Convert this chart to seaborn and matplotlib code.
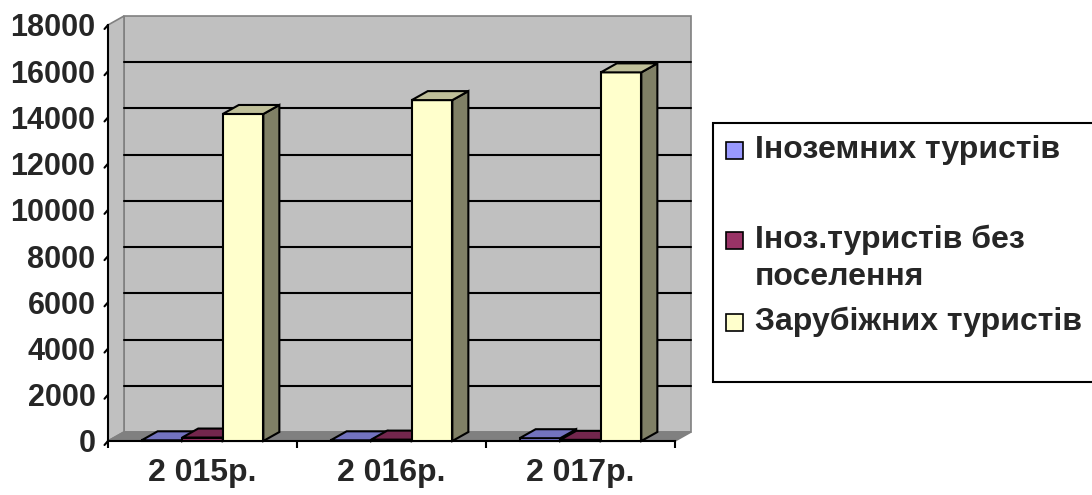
import numpy as np
import pandas as pd
import matplotlib
matplotlib.use("Agg")
import matplotlib.pyplot as plt
from matplotlib.patches import Polygon, Rectangle
from matplotlib.lines import Line2D
import seaborn as sns

# ---------------- data ----------------
years = ["2 015р.", "2 016р.", "2 017р."]
series_names = ["Іноземних туристів", "Іноз.туристів без поселення", "Зарубіжних туристів"]
legend_labels = ["Іноземних туристів", "Іноз.туристів без\nпоселення", "Зарубіжних туристів"]
inozemni = [30, 30, 120]
bez_poselennya = [150, 60, 50]
zarubizhni = [14150, 14750, 15950]
y_ticks = [0, 2000, 4000, 6000, 8000, 10000, 12000, 14000, 16000, 18000]
colors = ["#9999FF", "#993366", "#FFFFCC"]

df = pd.DataFrame({
    "year": years * 3,
    "series": [series_names[0]] * 3 + [series_names[1]] * 3 + [series_names[2]] * 3,
    "value": inozemni + bez_poselennya + zarubizhni,
})

sns.set_theme(style="white")
plt.rcParams["font.family"] = ["Liberation Sans", "DejaVu Sans"]
plt.rcParams["font.weight"] = "bold"

W, H = 1092, 495
fig = plt.figure(figsize=(W / 100, H / 100), dpi=100)
fig.patch.set_facecolor("white")

# axes = front plane of the 3D box (pixels)
x0, x1, y_bot, y_top = 108, 675, 441, 25
ax = fig.add_axes([x0 / W, 1 - y_bot / H, (x1 - x0) / W, (y_bot - y_top) / H])
ax.set_facecolor("none")

sns.barplot(data=df, x="year", y="value", hue="series", palette=colors,
            width=0.644, saturation=1, edgecolor="black", linewidth=1.5,
            legend=False, ax=ax, errorbar=None)
ax.set_xlim(-0.5, 2.5)
ax.set_ylim(0, 18000)

px_x = (x1 - x0) / 3.0          # pixels per category unit
px_y = (y_bot - y_top) / 18000  # pixels per value unit
ddx = 16 / px_x
ddy = 9 / px_y
ymax = 18000

def shade(c, f):
    r, g, b = matplotlib.colors.to_rgb(c)
    return (r * f, g * f, b * f)

# walls and floor
xl, xr = -0.5, 2.5
wall_kw = dict(edgecolor="#808080", linewidth=1.2, clip_on=False)
ax.add_patch(Polygon([(xl + ddx, ddy), (xr + ddx, ddy), (xr + ddx, ymax + ddy), (xl + ddx, ymax + ddy)],
                     facecolor="#C0C0C0", zorder=0.5, **wall_kw))
ax.add_patch(Polygon([(xl, 0), (xl + ddx, ddy), (xl + ddx, ymax + ddy), (xl, ymax)],
                     facecolor="#C0C0C0", zorder=0.6, **wall_kw))
ax.add_patch(Polygon([(xl, 0), (xr, 0), (xr + ddx, ddy), (xl + ddx, ddy)],
                     facecolor="#808080", zorder=0.7, **wall_kw))
# gridlines on back wall
for v in y_ticks[1:-1]:
    ax.add_line(Line2D([xl + ddx, xr + ddx], [v + ddy, v + ddy], color="black",
                       linewidth=1.5, zorder=1.0, clip_on=False))

# 3D bar faces from seaborn patches
for k, cont in enumerate(ax.containers):
    base = 3 + k
    for p in cont.patches:
        p.set_zorder(base)
        p.set_clip_on(False)
        x, w, h = p.get_x(), p.get_width(), p.get_height()
        fc = colors[k]
        ax.add_patch(Polygon([(x + w, 0), (x + w + ddx, ddy), (x + w + ddx, h + ddy), (x + w, h)],
                             facecolor=shade(fc, 0.5), edgecolor="black", linewidth=1.5,
                             zorder=base + 0.5, clip_on=False))
        ax.add_patch(Polygon([(x, h), (x + w, h), (x + w + ddx, h + ddy), (x + ddx, h + ddy)],
                             facecolor=shade(fc, 0.75), edgecolor="black", linewidth=1.5,
                             zorder=base + 0.5, clip_on=False))

# axes styling
for s in ["top", "right"]:
    ax.spines[s].set_visible(False)
for s in ["left", "bottom"]:
    ax.spines[s].set_color("black")
    ax.spines[s].set_linewidth(1.5)
    ax.spines[s].set_zorder(2.5)
ax.set_xlabel("")
ax.set_ylabel("")
ax.set_yticks(y_ticks)
ax.set_yticklabels([str(v) for v in y_ticks])
ax.tick_params(axis="y", length=0, pad=9, labelsize=22)
ax.set_xticks([0, 1, 2])
ax.set_xticklabels(years)
ax.set_xticks([-0.5, 0.5, 1.5, 2.5], minor=True)
ax.tick_params(axis="x", which="major", length=0, pad=12, labelsize=23)
ax.tick_params(axis="x", which="minor", length=5, width=1.5, color="black", direction="out", bottom=True)
for lab in ax.get_xticklabels() + ax.get_yticklabels():
    lab.set_fontweight("bold")
# slanted y ticks
for v in y_ticks:
    ax.add_line(Line2D([xl, xl - 3.5 / px_x], [v, v - 4 / px_y], color="black",
                       linewidth=1.5, clip_on=False, zorder=2.5))

# legend (drawn as figure-level artists)
def fx(px):
    return px / W
def fy(py):
    return 1 - py / H

fig.patches.append(Rectangle((fx(713), fy(382)), fx(1100) - fx(713), fy(123) - fy(382),
                             transform=fig.transFigure, facecolor="white", edgecolor="black",
                             linewidth=1.5, figure=fig))
entry_y = [150, 240, 322]
sq = 17
for k in range(3):
    cy = entry_y[k]
    fig.patches.append(Rectangle((fx(726), fy(cy + sq / 2)), sq / W, sq / H,
                                 transform=fig.transFigure, facecolor=colors[k],
                                 edgecolor="black", linewidth=1.2, figure=fig))
fs = 23
fig.text(fx(755), fy(150), legend_labels[0], fontsize=fs, fontweight="bold", va="center", ha="left")
fig.text(fx(755), fy(240), "Іноз.туристів без", fontsize=fs, fontweight="bold", va="center", ha="left")
fig.text(fx(755), fy(277), "поселення", fontsize=fs, fontweight="bold", va="center", ha="left")
fig.text(fx(755), fy(322), legend_labels[2], fontsize=fs, fontweight="bold", va="center", ha="left")

fig.savefig("out.png", dpi=100)
